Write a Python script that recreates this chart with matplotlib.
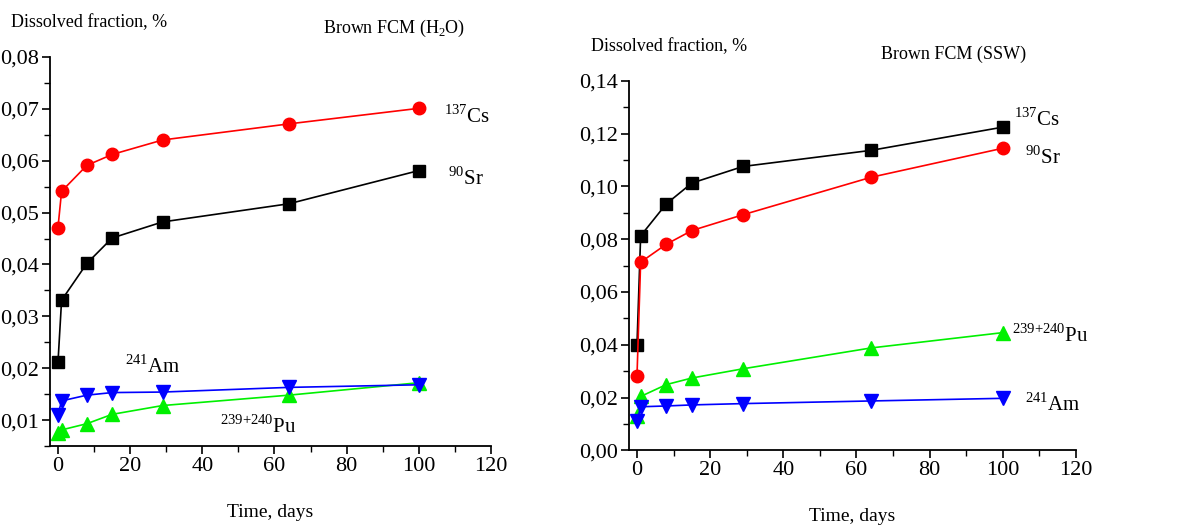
import numpy as np
import matplotlib
matplotlib.use("Agg")
import matplotlib.pyplot as plt
from matplotlib.ticker import MultipleLocator, FuncFormatter

plt.rcParams["font.family"] = ["Liberation Serif", "DejaVu Serif"]
plt.rcParams["mathtext.fontset"] = "custom"
plt.rcParams["mathtext.rm"] = "Liberation Serif"

# sampling times, days
days = [0, 1, 8, 15, 29, 64, 100]

# brown FCM in distilled water
h2o_cs137 = [0.0471, 0.0541, 0.0591, 0.0612, 0.0640, 0.0671, 0.0701]
h2o_sr90 = [0.0211, 0.0331, 0.0402, 0.0451, 0.0482, 0.0517, 0.0581]
h2o_am241 = [0.0110, 0.0137, 0.0148, 0.0153, 0.0154, 0.0163, 0.0168]
h2o_pu = [0.0076, 0.0081, 0.0093, 0.0111, 0.0128, 0.0148, 0.0172]

# brown FCM in simulated sea water
ssw_cs137 = [0.0400, 0.0813, 0.0934, 0.1013, 0.1076, 0.1137, 0.1225]
ssw_sr90 = [0.0282, 0.0713, 0.0781, 0.0833, 0.0893, 0.1035, 0.1145]
ssw_pu = [0.0130, 0.0204, 0.0249, 0.0274, 0.0309, 0.0388, 0.0446]
ssw_am241 = [0.0110, 0.0165, 0.0168, 0.0172, 0.0177, 0.0187, 0.0197]

RED = "#ff0000"
GREEN = "#00f000"
BLUE = "#0000ff"

CS = r"$^{137}$Cs"
SR = r"$^{90}$Sr"
AM = r"$^{241}$Am"
PU = r"$^{239{+}240}$Pu"


def comma_fmt(v, pos):
    return f"{v:.2f}".replace(".", ",")


def style_axes(ax, ymin, ymax, ystep):
    for side in ("top", "right"):
        ax.spines[side].set_visible(False)
    for side in ("left", "bottom"):
        ax.spines[side].set_linewidth(1.3)
    ax.set_xlim(-2.2, 120)
    ax.set_ylim(ymin, ymax)
    ax.xaxis.set_major_locator(MultipleLocator(20))
    ax.xaxis.set_minor_locator(MultipleLocator(10))
    ax.yaxis.set_major_locator(MultipleLocator(ystep))
    ax.yaxis.set_minor_locator(MultipleLocator(ystep / 2))
    ax.yaxis.set_major_formatter(FuncFormatter(comma_fmt))
    ax.tick_params(which="major", direction="out", length=6, width=1.2,
                   labelsize=16, pad=2)
    ax.tick_params(which="minor", direction="out", length=4, width=1.0)
    ax.set_xlabel("Time, days", fontsize=14, labelpad=20)


def series(ax, y, color, marker, ms):
    ax.plot(days, y, color=color, lw=1.2, marker=marker, ms=ms,
            markerfacecolor=color, markeredgecolor=color, clip_on=False, zorder=3)


fig = plt.figure(figsize=(11.8, 5.3), dpi=100)

# left panel: H2O
ax1 = fig.add_axes([0.0424, 0.1585, 0.3737, 0.734])
style_axes(ax1, 0.005, 0.08, 0.01)
series(ax1, h2o_cs137, RED, "o", 9)
series(ax1, h2o_sr90, "black", "s", 8)
series(ax1, h2o_pu, GREEN, "^", 10)
series(ax1, h2o_am241, BLUE, "v", 10)
fig.text(0.009, 0.958, "Dissolved fraction, %", fontsize=13, va="center")
fig.text(0.274, 0.947, r"Brown FCM (H$_2$O)", fontsize=13, va="center")
ax1.text(107, 0.0685, CS, fontsize=15, va="center")
ax1.text(108, 0.0565, SR, fontsize=15, va="center")
ax1.text(18.5, 0.0203, AM, fontsize=15, va="center")
ax1.text(45, 0.0087, PU, fontsize=15, va="center")

# right panel: SSW
ax2 = fig.add_axes([0.533, 0.1504, 0.3788, 0.6968])
style_axes(ax2, 0.0, 0.14, 0.02)
series(ax2, ssw_cs137, "black", "s", 8)
series(ax2, ssw_sr90, RED, "o", 9)
series(ax2, ssw_pu, GREEN, "^", 10)
series(ax2, ssw_am241, BLUE, "v", 10)
fig.text(0.501, 0.912, "Dissolved fraction, %", fontsize=13, va="center")
fig.text(0.747, 0.897, "Brown FCM (SSW)", fontsize=13, va="center")
ax2.text(103, 0.1255, CS, fontsize=15, va="center")
ax2.text(106, 0.1110, SR, fontsize=15, va="center")
ax2.text(102.5, 0.0435, PU, fontsize=15, va="center")
ax2.text(106, 0.0175, AM, fontsize=15, va="center")

fig.savefig("out.png", dpi=100)
